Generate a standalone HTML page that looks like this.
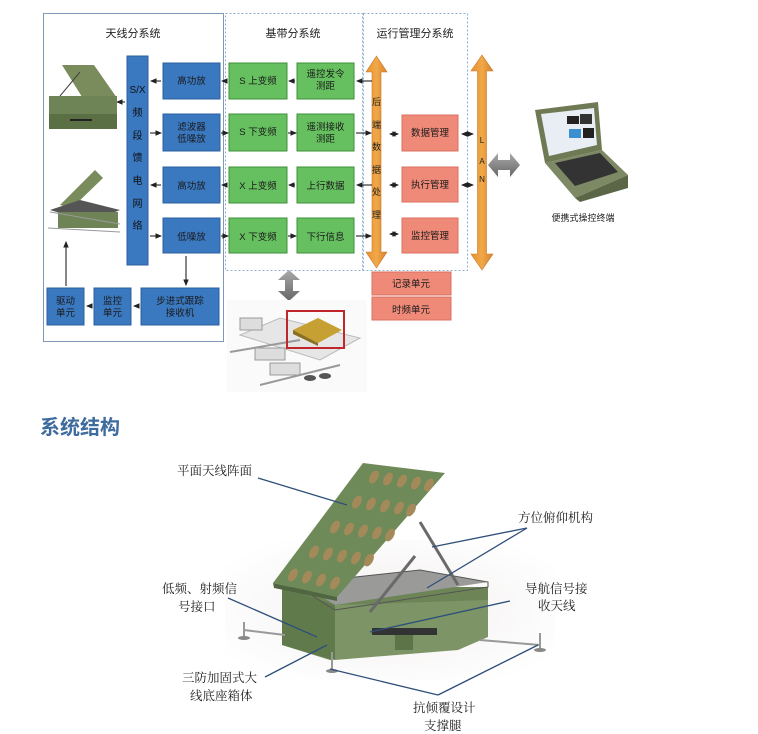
<!DOCTYPE html>
<html><head><meta charset="utf-8"><style>
html,body{margin:0;padding:0;background:#fff;width:758px;height:734px;overflow:hidden}
svg{display:block}
.t{font-family:"Liberation Sans","Noto Sans CJK SC",sans-serif}
.s{font-family:"Liberation Serif","Noto Serif CJK SC",serif}
</style></head><body>
<svg width="758" height="734" viewBox="0 0 758 734" xmlns="http://www.w3.org/2000/svg">
<defs>
<marker id="ah" markerWidth="6" markerHeight="6" refX="5" refY="3" orient="auto"><path d="M0,0.5 L6,3 L0,5.5z" fill="#222"/></marker>
<marker id="ahs" markerWidth="6" markerHeight="6" refX="5" refY="3" orient="auto-start-reverse"><path d="M0,0.5 L6,3 L0,5.5z" fill="#222"/></marker>
<linearGradient id="og" x1="0" x2="1"><stop offset="0" stop-color="#e8922e"/><stop offset="0.5" stop-color="#f0a848"/><stop offset="1" stop-color="#d8822a"/></linearGradient>
<linearGradient id="gg" x1="0" y1="0" x2="0" y2="1"><stop offset="0" stop-color="#aaa"/><stop offset="1" stop-color="#666"/></linearGradient>
<radialGradient id="bg" cx="0.5" cy="0.5" r="0.6"><stop offset="0" stop-color="#f2efee"/><stop offset="1" stop-color="#fff"/></radialGradient>
</defs>

<!-- frames -->
<rect x="43.5" y="13.5" width="180" height="328" fill="none" stroke="#7f9ab8" stroke-width="1"/>
<rect x="225.5" y="13.5" width="137" height="257" fill="none" stroke="#8fb0d0" stroke-width="1" stroke-dasharray="2,2"/>
<rect x="363.5" y="13.5" width="104" height="257" fill="none" stroke="#8fb0d0" stroke-width="1" stroke-dasharray="2,2"/>
<g class="t" font-size="11" fill="#222" text-anchor="middle">
<text x="133" y="37">天线分系统</text>
<text x="293" y="37">基带分系统</text>
<text x="415" y="37">运行管理分系统</text>
</g>

<!-- S/X column -->
<rect x="127" y="56" width="21" height="209" fill="#3a78c0" stroke="#2c5f9c"/>
<g class="t" font-size="10" fill="#111" text-anchor="middle">
<text x="137.5" y="93">S/X</text><text x="137.5" y="116">频</text><text x="137.5" y="139">段</text><text x="137.5" y="161">馈</text><text x="137.5" y="184">电</text><text x="137.5" y="207">网</text><text x="137.5" y="229">络</text>
</g>

<!-- blue boxes -->
<g fill="#3a78c0" stroke="#2c5f9c">
<rect x="163" y="63" width="57" height="36"/><rect x="163" y="114" width="57" height="37"/><rect x="163" y="167" width="57" height="36"/><rect x="163" y="218" width="57" height="35"/>
<rect x="47" y="288" width="37" height="37"/><rect x="94" y="288" width="37" height="37"/><rect x="141" y="288" width="78" height="37"/>
</g>
<!-- green boxes -->
<g fill="#66c060" stroke="#3f8f3a">
<rect x="229" y="63" width="58" height="36"/><rect x="297" y="63" width="57" height="36"/>
<rect x="229" y="114" width="58" height="37"/><rect x="297" y="114" width="57" height="37"/>
<rect x="229" y="167" width="58" height="36"/><rect x="297" y="167" width="57" height="36"/>
<rect x="229" y="218" width="58" height="35"/><rect x="297" y="218" width="57" height="35"/>
</g>
<!-- pink boxes -->
<g fill="#ef8a78" stroke="#d87060">
<rect x="402" y="115" width="56" height="36"/><rect x="402" y="167" width="56" height="35"/><rect x="402" y="218" width="56" height="35"/>
<rect x="372" y="272" width="79" height="23"/><rect x="372" y="297" width="79" height="23"/>
</g>
<g class="t" font-size="9.5" fill="#1a1a1a" text-anchor="middle">
<text x="191.5" y="84">高功放</text>
<text x="191.5" y="130">滤波器</text><text x="191.5" y="142">低噪放</text>
<text x="191.5" y="189">高功放</text>
<text x="191.5" y="240">低噪放</text>
<text x="258" y="84">S 上变频</text><text x="258" y="135">S 下变频</text><text x="258" y="189">X 上变频</text><text x="258" y="240">X 下变频</text>
<text x="325.5" y="77">遥控发令</text><text x="325.5" y="89">测距</text>
<text x="325.5" y="130">遥测接收</text><text x="325.5" y="142">测距</text>
<text x="325.5" y="189">上行数据</text><text x="325.5" y="240">下行信息</text>
<text x="65.5" y="304">驱动</text><text x="65.5" y="316">单元</text>
<text x="112.5" y="304">监控</text><text x="112.5" y="316">单元</text>
<text x="180" y="304">步进式跟踪</text><text x="180" y="316">接收机</text>
<text x="430" y="136">数据管理</text><text x="430" y="188">执行管理</text><text x="430" y="239">监控管理</text>
<text x="411" y="287">记录单元</text><text x="411" y="313">时频单元</text>
</g>

<!-- orange arrows -->
<path d="M376.5,56 L387,72 L381,72 L381,252 L387,252 L376.5,268 L366,252 L372,252 L372,72 L366,72z" fill="url(#og)" stroke="#c8782a" stroke-width="0.6"/>
<g class="t" font-size="9" fill="#222" text-anchor="middle">
<text x="376.5" y="105">后</text><text x="376.5" y="128">端</text><text x="376.5" y="150">数</text><text x="376.5" y="173">据</text><text x="376.5" y="195">处</text><text x="376.5" y="218">理</text>
</g>
<path d="M482,55 L493,71 L486.5,71 L486.5,254 L493,254 L482,270 L471,254 L477.5,254 L477.5,71 L471,71z" fill="url(#og)" stroke="#c8782a" stroke-width="0.6"/>
<g class="t" font-size="8" fill="#222" text-anchor="middle"><text x="482" y="143">L</text><text x="482" y="164">A</text><text x="482" y="182">N</text></g>

<!-- connectors -->
<g stroke="#222" stroke-width="1.1" fill="none">
<line x1="161" y1="81" x2="151" y2="81" marker-end="url(#ah)"/>
<line x1="150" y1="133" x2="161" y2="133" marker-end="url(#ah)"/>
<line x1="161" y1="185" x2="151" y2="185" marker-end="url(#ah)"/>
<line x1="150" y1="236" x2="161" y2="236" marker-end="url(#ah)"/>
<line x1="227" y1="81" x2="222" y2="81" marker-end="url(#ah)"/>
<line x1="221" y1="133" x2="228" y2="133" marker-end="url(#ah)"/>
<line x1="227" y1="185" x2="222" y2="185" marker-end="url(#ah)"/>
<line x1="221" y1="236" x2="228" y2="236" marker-end="url(#ah)"/>
<line x1="295" y1="81" x2="289" y2="81" marker-end="url(#ah)"/>
<line x1="288" y1="133" x2="296" y2="133" marker-end="url(#ah)"/>
<line x1="295" y1="185" x2="289" y2="185" marker-end="url(#ah)"/>
<line x1="288" y1="236" x2="296" y2="236" marker-end="url(#ah)"/>
<line x1="372" y1="81" x2="357" y2="81" marker-end="url(#ah)"/>
<line x1="356" y1="133" x2="371" y2="133" marker-end="url(#ah)"/>
<line x1="372" y1="185" x2="357" y2="185" marker-end="url(#ah)"/>
<line x1="356" y1="236" x2="371" y2="236" marker-end="url(#ah)"/>
<line x1="390" y1="134" x2="398" y2="134" marker-start="url(#ahs)" marker-end="url(#ah)"/>
<line x1="390" y1="185" x2="398" y2="185" marker-start="url(#ahs)" marker-end="url(#ah)"/>
<line x1="390" y1="234" x2="398" y2="234" marker-start="url(#ahs)" marker-end="url(#ah)"/>
<line x1="462" y1="134" x2="473" y2="134" marker-start="url(#ahs)" marker-end="url(#ah)"/>
<line x1="462" y1="185" x2="473" y2="185" marker-start="url(#ahs)" marker-end="url(#ah)"/>
<line x1="125" y1="102" x2="117" y2="102" marker-end="url(#ah)"/>
<line x1="186" y1="256" x2="186" y2="285" marker-end="url(#ah)"/>
<line x1="139" y1="306" x2="134" y2="306" marker-end="url(#ah)"/>
<line x1="92" y1="306" x2="87" y2="306" marker-end="url(#ah)"/>
<line x1="66" y1="286" x2="66" y2="242" marker-end="url(#ah)"/>
</g>

<!-- gray arrows -->
<path d="M488,165 L498,153 L498,160 L510,160 L510,153 L520,165 L510,177 L510,170 L498,170 L498,177z" fill="url(#gg)"/>
<path d="M289,270 L300,280 L293,280 L293,291 L300,291 L289,301 L278,291 L285,291 L285,280 L278,280z" fill="url(#gg)"/>

<!-- small antennas -->
<g>
<polygon points="62,65 94,65 117,98 84,100" fill="#7a8c5c"/>
<rect x="49" y="96" width="68" height="18" fill="#6f8456"/>
<rect x="49" y="114" width="68" height="15" fill="#5b6f45"/>
<line x1="60" y1="96" x2="80" y2="72" stroke="#444"/>
<line x1="70" y1="120" x2="92" y2="120" stroke="#222" stroke-width="2"/>
<polygon points="60,205 95,170 103,178 72,208" fill="#7a8c5c"/>
<polygon points="50,210 80,200 120,210 90,222" fill="#555"/>
<rect x="58" y="212" width="60" height="16" fill="#6f8456"/>
<line x1="50" y1="212" x2="120" y2="224" stroke="#999"/>
<line x1="48" y1="228" x2="120" y2="232" stroke="#999"/>
</g>
<!-- laptop -->
<g>
<polygon points="535,110 598,102 602,150 545,163" fill="#6f7a55"/>
<polygon points="541,114 594,108 597,145 549,156" fill="#e8eef4"/>
<rect x="567" y="116" width="12" height="8" fill="#222"/><rect x="580" y="114" width="12" height="10" fill="#333"/>
<rect x="569" y="129" width="12" height="9" fill="#3a8fd0"/><rect x="583" y="128" width="11" height="10" fill="#222"/>
<polygon points="545,163 602,150 628,175 575,198" fill="#7d8864"/>
<polygon points="555,163 600,153 618,172 575,186" fill="#333"/>
<polygon points="575,198 628,175 628,188 580,202" fill="#5b6647"/>
</g>
<text x="583" y="221" class="t" font-size="9" fill="#222" text-anchor="middle">便携式操控终端</text>

<!-- chip image -->
<g>
<rect x="227" y="300" width="140" height="92" fill="#fafafa"/>
<polygon points="240,335 280,318 360,338 320,360" fill="#e6e6e6" stroke="#bbb"/>
<rect x="240" y="318" width="22" height="12" fill="#ddd" stroke="#999"/>
<rect x="255" y="348" width="30" height="12" fill="#ddd" stroke="#999"/>
<rect x="270" y="363" width="30" height="12" fill="#ddd" stroke="#999"/>
<line x1="230" y1="352" x2="300" y2="340" stroke="#999" stroke-width="2"/>
<line x1="260" y1="385" x2="340" y2="365" stroke="#999" stroke-width="2"/>
<ellipse cx="310" cy="378" rx="6" ry="3" fill="#555"/><ellipse cx="325" cy="376" rx="6" ry="3" fill="#555"/>
<polygon points="293,330 318,318 342,330 318,343" fill="#c6a033"/>
<polygon points="293,330 318,343 318,346 293,334" fill="#8a7020"/>
<rect x="287" y="311" width="57" height="37" fill="none" stroke="#c0262c" stroke-width="2"/>
</g>

<!-- heading -->
<text x="40" y="434" font-family="'Liberation Sans','Noto Sans CJK SC',sans-serif" font-size="20" font-weight="bold" fill="#3d6b9e">系统结构</text>

<!-- bottom figure -->
<rect x="225" y="540" width="330" height="140" fill="url(#bg)"/>
<polygon points="282,587 330,587 488,587 488,607 470,640 330,660 282,645" fill="#6c8456"/>
<polygon points="335,605 488,600 488,637 458,650 335,660" fill="#7c9466"/>
<polygon points="282,587 335,605 335,660 282,645" fill="#607a4c"/>
<polygon points="300,583 420,570 488,582 335,605" fill="#9a9a98"/>
<polygon points="300,583 420,570 488,582 488,587 335,610 300,588" fill="none" stroke="#555" stroke-width="1"/>
<rect x="372" y="628" width="65" height="7" fill="#333"/>
<rect x="395" y="635" width="18" height="15" fill="#5c7448"/>
<line x1="370" y1="612" x2="415" y2="556" stroke="#6a6a6a" stroke-width="3"/>
<line x1="458" y1="585" x2="420" y2="522" stroke="#6a6a6a" stroke-width="3"/>
<polygon points="363,463 445,473 337,597 273,583" fill="#6e8a58"/>
<polygon points="273,583 337,597 337,601 274,588" fill="#4f6640"/>
<g fill="#a48a5a">
<ellipse cx="374" cy="477" rx="4" ry="7" transform="rotate(30 374 477)"/><ellipse cx="388" cy="479" rx="4" ry="7" transform="rotate(30 388 479)"/><ellipse cx="402" cy="481" rx="4" ry="7" transform="rotate(30 402 481)"/><ellipse cx="416" cy="483" rx="4" ry="7" transform="rotate(30 416 483)"/><ellipse cx="429" cy="485" rx="4" ry="7" transform="rotate(30 429 485)"/>
<ellipse cx="357" cy="502" rx="4" ry="7" transform="rotate(30 357 502)"/><ellipse cx="371" cy="504" rx="4" ry="7" transform="rotate(30 371 504)"/><ellipse cx="385" cy="506" rx="4" ry="7" transform="rotate(30 385 506)"/><ellipse cx="399" cy="508" rx="4" ry="7" transform="rotate(30 399 508)"/><ellipse cx="411" cy="510" rx="4" ry="7" transform="rotate(30 411 510)"/>
<ellipse cx="335" cy="527" rx="4" ry="7" transform="rotate(30 335 527)"/><ellipse cx="349" cy="529" rx="4" ry="7" transform="rotate(30 349 529)"/><ellipse cx="363" cy="531" rx="4" ry="7" transform="rotate(30 363 531)"/><ellipse cx="377" cy="533" rx="4" ry="7" transform="rotate(30 377 533)"/><ellipse cx="390" cy="535" rx="4" ry="7" transform="rotate(30 390 535)"/>
<ellipse cx="314" cy="552" rx="4" ry="7" transform="rotate(30 314 552)"/><ellipse cx="328" cy="554" rx="4" ry="7" transform="rotate(30 328 554)"/><ellipse cx="342" cy="556" rx="4" ry="7" transform="rotate(30 342 556)"/><ellipse cx="356" cy="558" rx="4" ry="7" transform="rotate(30 356 558)"/><ellipse cx="369" cy="560" rx="4" ry="7" transform="rotate(30 369 560)"/>
<ellipse cx="293" cy="575" rx="4" ry="7" transform="rotate(30 293 575)"/><ellipse cx="307" cy="577" rx="4" ry="7" transform="rotate(30 307 577)"/><ellipse cx="321" cy="580" rx="4" ry="7" transform="rotate(30 321 580)"/><ellipse cx="335" cy="583" rx="4" ry="7" transform="rotate(30 335 583)"/>
</g>
<g stroke="#999" stroke-width="2" fill="none">
<line x1="244" y1="630" x2="285" y2="635"/><line x1="244" y1="622" x2="244" y2="638"/>
<line x1="480" y1="640" x2="540" y2="645"/><line x1="540" y1="633" x2="540" y2="650"/>
<line x1="332" y1="652" x2="332" y2="670"/>
</g>
<ellipse cx="244" cy="638" rx="6" ry="2" fill="#888"/><ellipse cx="540" cy="650" rx="6" ry="2" fill="#888"/><ellipse cx="332" cy="671" rx="6" ry="2" fill="#888"/>

<g stroke="#2e4f7a" stroke-width="1.3" fill="none">
<line x1="258" y1="478" x2="347" y2="505"/>
<line x1="527" y1="528" x2="432" y2="547"/>
<line x1="527" y1="528" x2="427" y2="588"/>
<line x1="228" y1="598" x2="317" y2="637"/>
<line x1="510" y1="601" x2="370" y2="632"/>
<line x1="265" y1="677" x2="327" y2="645"/>
<line x1="438" y1="695" x2="330" y2="669"/>
<line x1="438" y1="695" x2="538" y2="645"/>
</g>
<g class="s" font-size="12.5" fill="#222">
<text x="177" y="475">平面天线阵面</text>
<text x="518" y="522">方位俯仰机构</text>
<text x="162" y="593">低频、射频信</text><text x="178" y="611">号接口</text>
<text x="525" y="593">导航信号接</text><text x="538" y="610">收天线</text>
<text x="182" y="682">三防加固式大</text><text x="190" y="700">线底座箱体</text>
<text x="413" y="712">抗倾覆设计</text><text x="424" y="730">支撑腿</text>
</g>
</svg>
</body></html>
